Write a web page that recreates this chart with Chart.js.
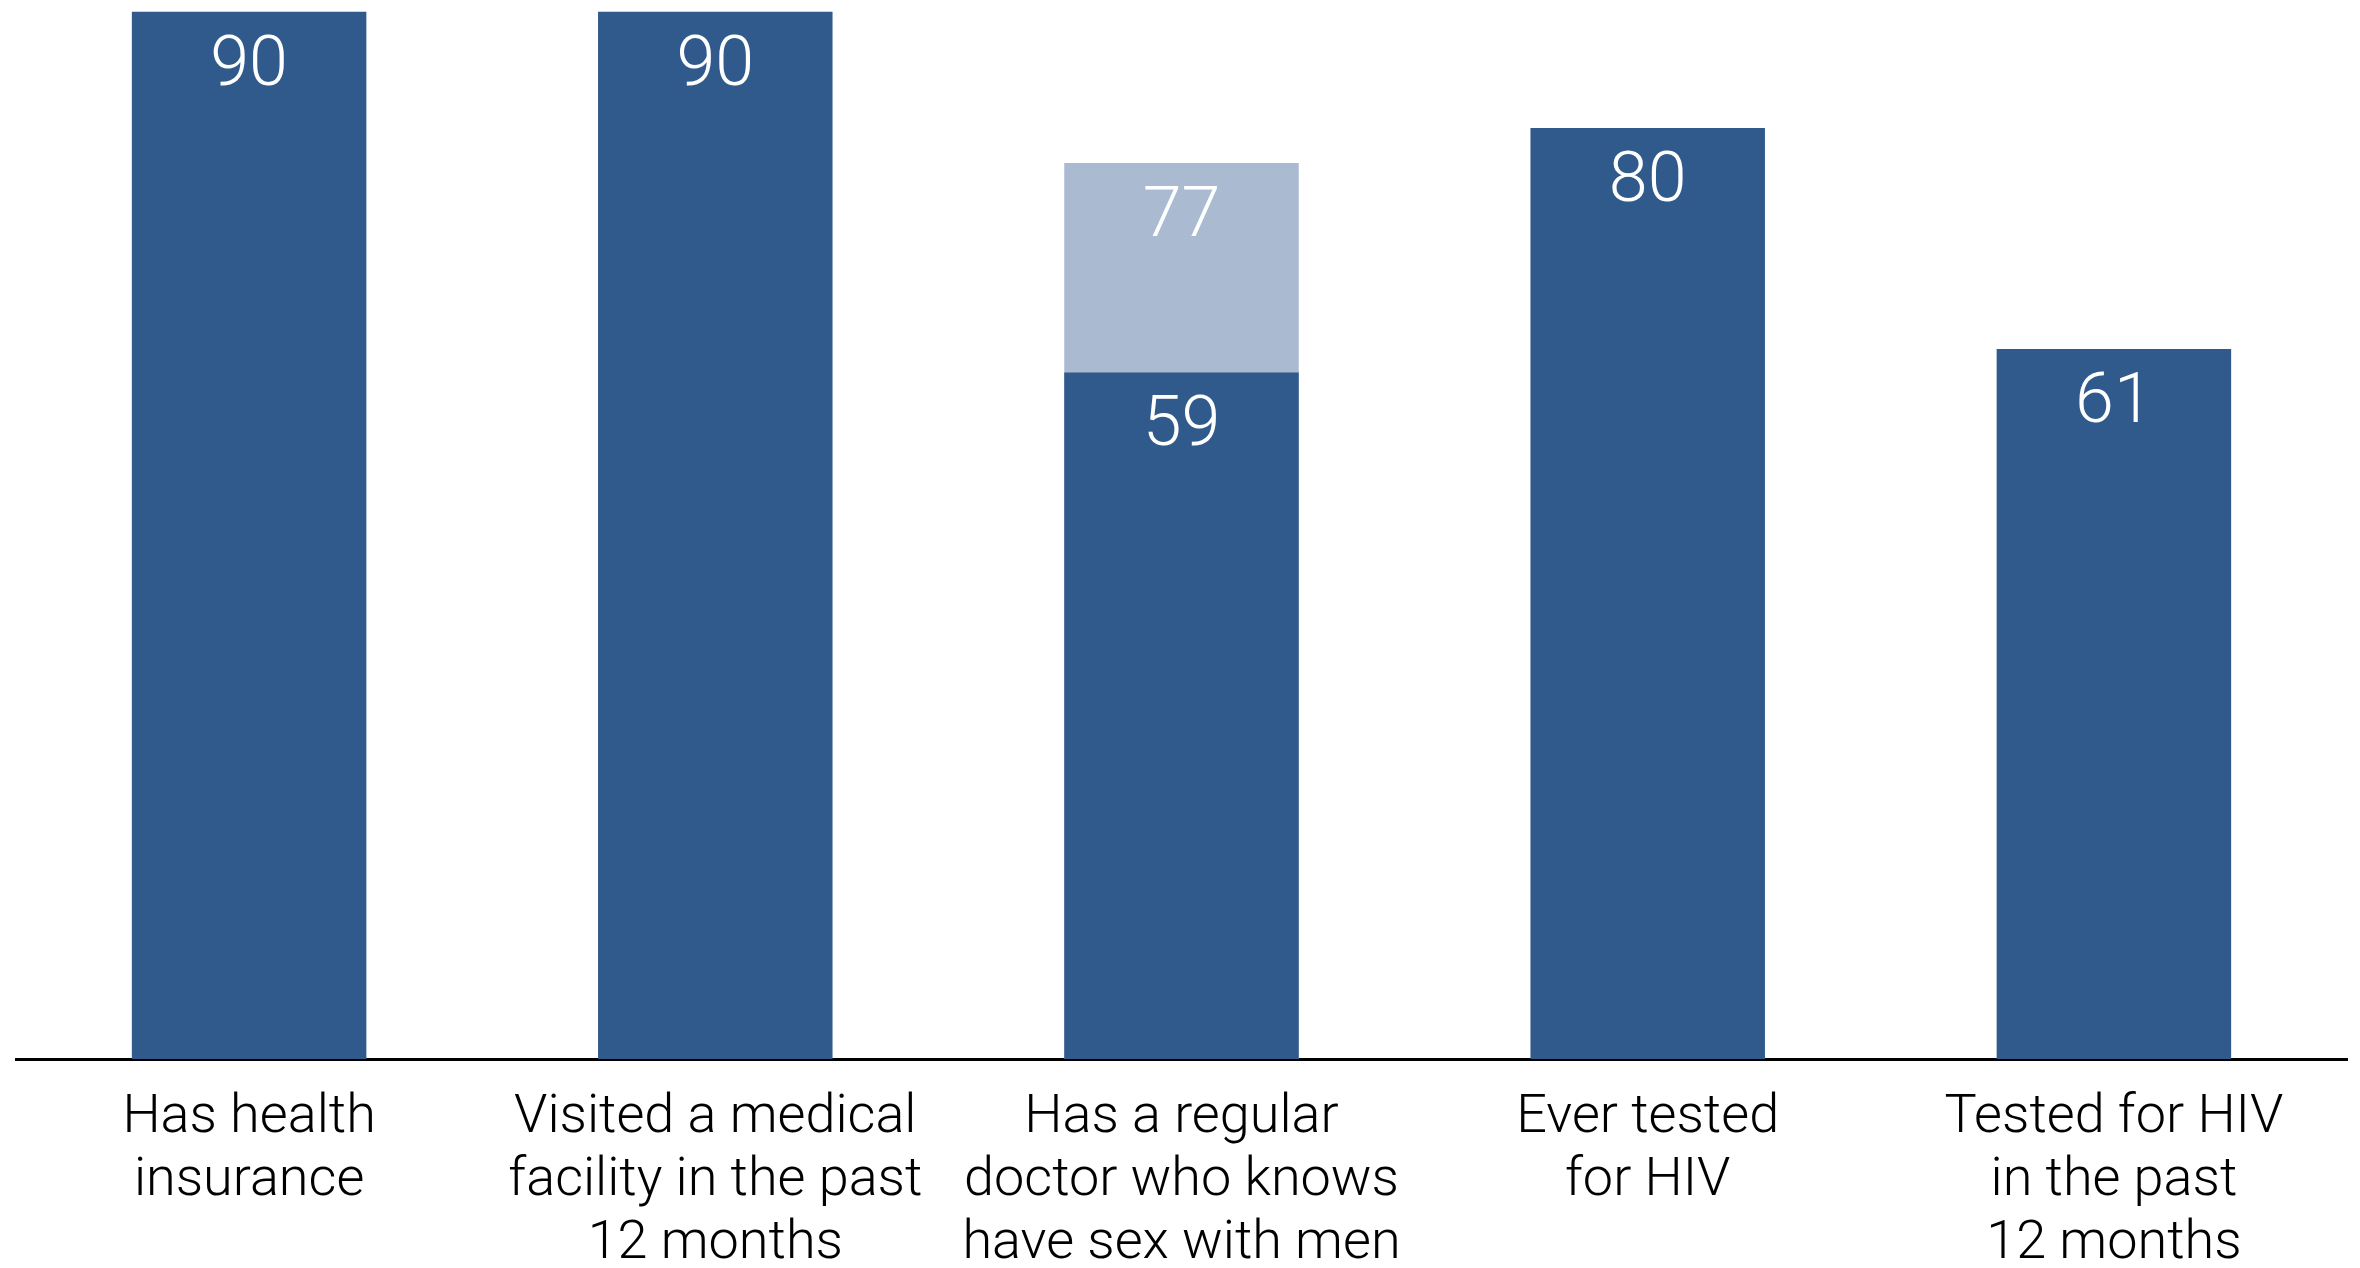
<!DOCTYPE html>
<html>
<head>
<meta charset="utf-8">
<script src="https://cdn.jsdelivr.net/npm/chart.js@4"></script>
<style>
    html, body { margin: 0; padding: 0; background: #fff; }
    #wrap { width: 2360px; height: 1268px; }
</style>
</head>
<body>
<div id="wrap"><canvas id="grafico"></canvas></div>
<script>
const categorias = [
    ['Has health', 'insurance'],
    ['Visited a medical', 'facility in the past', '12 months'],
    ['Has a regular', 'doctor who knows', 'have sex with men'],
    ['Ever tested', 'for HIV'],
    ['Tested for HIV', 'in the past', '12 months']
];

// dark bars
const valores = [90, 90, 59, 80, 61];
// light bar behind the third category
const valoresClaros = [null, null, 77, null, null];

const fonte = 'Roboto, "Helvetica Neue", Arial, sans-serif';

// white value inside the top of every bar
const rotulos = {
    id: 'rotulos',
    afterDatasetsDraw(chart) {
        const ctx = chart.ctx;
        ctx.save();
        ctx.fillStyle = '#ffffff';
        ctx.font = '300 70px ' + fonte;
        ctx.textAlign = 'center';
        ctx.textBaseline = 'alphabetic';
        chart.data.datasets.forEach((ds, i) => {
            chart.getDatasetMeta(i).data.forEach((bar, j) => {
                const v = ds.data[j];
                if (v === null) return;
                ctx.fillText(String(v), bar.x, bar.y + 73);
            });
        });
        ctx.restore();
    }
};

new Chart(document.getElementById('grafico'), {
    type: 'bar',

    data: {
        labels: categorias,

        datasets: [{
            data: valores,
            backgroundColor: '#2F5A8B',
            grouped: false,
            order: 0,
            barPercentage: 0.503,
            categoryPercentage: 1.0
        }, {
            data: valoresClaros,
            backgroundColor: '#A9BAD1',
            grouped: false,
            order: 1,
            barPercentage: 0.503,
            categoryPercentage: 1.0
        }]
    },

    options: {
        responsive: true,
        maintainAspectRatio: false,
        animation: false,
        layout: {
            padding: { left: 16, right: 13, top: 0, bottom: 0 }
        },
        plugins: {
            legend: { display: false },
            tooltip: { enabled: false }
        },

        scales: {
            x: {
                grid: { display: false },
                border: { display: true, color: '#000000', width: 3 },
                ticks: {
                    color: '#000000',
                    padding: 20,
                    maxRotation: 0,
                    autoSkip: false,
                    font: { family: fonte, size: 54, weight: 300, lineHeight: '63px' }
                },
                // last label line runs off the bottom edge
                afterFit(scale) {
                    scale.height -= 28;
                }
            },

            y: {
                display: false,
                min: 0,
                max: 91
            }
        }
    },

    plugins: [rotulos]
});
</script>
</body>
</html>
